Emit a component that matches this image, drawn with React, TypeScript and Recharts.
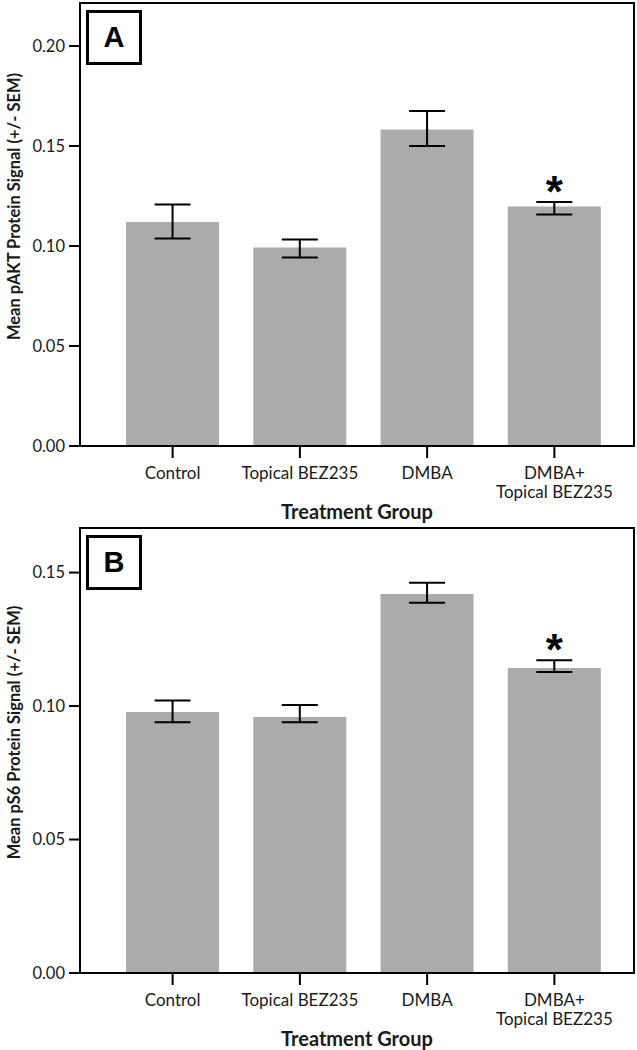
import React from "react";
import { ComposedChart, Bar, Line, XAxis, YAxis, ErrorBar } from "recharts";

const GROUPS = ["Control", "Topical BEZ235", "DMBA", "DMBA+\nTopical BEZ235"];

// panel A: pAKT
const PAKT_MEAN = [0.112, 0.0993, 0.1583, 0.1198];
const PAKT_LOW = [0.1038, 0.0942, 0.15, 0.1158];
const PAKT_HIGH = [0.1207, 0.1033, 0.1675, 0.122];
const PAKT_TICKS = [0, 0.05, 0.1, 0.15, 0.2];

// panel B: pS6
const PS6_MEAN = [0.0978, 0.0959, 0.142, 0.1143];
const PS6_LOW = [0.0939, 0.0939, 0.1387, 0.1128];
const PS6_HIGH = [0.1021, 0.1004, 0.1462, 0.1172];
const PS6_TICKS = [0, 0.05, 0.1, 0.15];

const SIGNIFICANT = [false, false, false, true];

const FONT = "Lato, 'Open Sans', sans-serif";
const INK = "#1a1a1a";

function buildRows(mean: number[], low: number[], high: number[]) {
  return GROUPS.map((group, i) => ({
    group,
    mean: mean[i],
    err: [mean[i] - low[i], high[i] - mean[i]],
    star: SIGNIFICANT[i] ? high[i] : null,
  }));
}

function GroupTick(props: any) {
  const { x, y, payload } = props;
  const lines = String(payload.value).split("\n");
  return (
    <text x={x} y={y} textAnchor="middle" fill={INK} fontSize={17} fontFamily={FONT}>
      {lines.map((l, i) => (
        <tspan key={i} x={x} dy={19}>
          {l}
        </tspan>
      ))}
    </text>
  );
}

function StarDot(props: any) {
  const { cx, cy, index, value } = props;
  if (value == null || cy == null || isNaN(cy)) return <g key={`s${index}`} />;
  return (
    <text
      key={`s${index}`}
      x={cx}
      y={cy + 5}
      textAnchor="middle"
      fontSize={44}
      fontWeight="bold"
      fontFamily="'Liberation Sans', Arial, sans-serif"
      fill="#000"
    >
      *
    </text>
  );
}

function YTitle({ viewBox, text }: any) {
  const cx = viewBox.x + 14;
  const cy = viewBox.y + viewBox.height / 2 - 18;
  return (
    <text
      x={cx}
      y={cy}
      transform={`rotate(-90, ${cx}, ${cy})`}
      textAnchor="middle"
      dominantBaseline="central"
      fontSize={16.5}
      fontWeight="bold"
      fontFamily={FONT}
      fill={INK}
    >
      {text}
    </text>
  );
}

function XTitle({ viewBox }: any) {
  return (
    <text
      x={viewBox.x + viewBox.width / 2}
      y={viewBox.y + 65}
      textAnchor="middle"
      dominantBaseline="central"
      fontSize={20}
      fontWeight="bold"
      fontFamily={FONT}
      fill={INK}
    >
      Treatment Group
    </text>
  );
}

interface PanelProps {
  top: number;
  height: number;
  xAxisHeight: number;
  letter: string;
  yTitle: string;
  rows: ReturnType<typeof buildRows>;
  yMax: number;
  ticks: number[];
}

function Panel({ top, height, xAxisHeight, letter, yTitle, rows, yMax, ticks }: PanelProps) {
  const plotTop = 3;
  const plotBottom = height - xAxisHeight;
  return (
    <div style={{ position: "absolute", left: 0, top, width: 637, height }}>
      <ComposedChart
        width={637}
        height={height}
        data={rows}
        margin={{ top: plotTop, right: 3, left: 0, bottom: 0 }}
        barCategoryGap="13.4%"
      >
        <XAxis
          dataKey="group"
          height={xAxisHeight}
          padding={{ left: 29, right: 16 }}
          axisLine={false}
          tickLine={{ stroke: "#000", strokeWidth: 2 }}
          tickSize={12}
          tickMargin={2}
          tick={<GroupTick />}
          interval={0}
          label={<XTitle />}
        />
        <YAxis
          width={80}
          domain={[0, yMax]}
          ticks={ticks}
          allowDataOverflow
          axisLine={false}
          tickLine={{ stroke: "#000", strokeWidth: 2 }}
          tickSize={11}
          tickMargin={4}
          tick={{ fontSize: 16.5, fill: INK, fontFamily: FONT }}
          tickFormatter={(v: number) => v.toFixed(2)}
          label={<YTitle text={yTitle} />}
        />
        <Bar dataKey="mean" fill="#ababab" isAnimationActive={false}>
          <ErrorBar dataKey="err" width={18} stroke="#000" strokeWidth={2} direction="y" />
        </Bar>
        <Line
          dataKey="star"
          stroke="none"
          dot={<StarDot />}
          activeDot={false}
          isAnimationActive={false}
          legendType="none"
        />
      </ComposedChart>
      <div
        style={{
          position: "absolute",
          left: 79,
          top: plotTop - 1,
          width: 556,
          height: plotBottom - plotTop + 2,
          border: "2px solid #000",
          boxSizing: "border-box",
          pointerEvents: "none",
        }}
      />
      <div
        style={{
          position: "absolute",
          left: 86,
          top: plotTop + 7,
          width: 56,
          height: 55,
          border: "3px solid #000",
          boxSizing: "border-box",
          background: "#fff",
          display: "flex",
          alignItems: "center",
          justifyContent: "center",
          fontFamily: "'Liberation Sans', Arial, sans-serif",
          fontWeight: "bold",
          fontSize: 29,
          color: "#000",
        }}
      >
        {letter}
      </div>
    </div>
  );
}

export default function App() {
  const paktRows = buildRows(PAKT_MEAN, PAKT_LOW, PAKT_HIGH);
  const ps6Rows = buildRows(PS6_MEAN, PS6_LOW, PS6_HIGH);
  return (
    <div
      style={{
        position: "absolute",
        left: 0,
        top: 0,
        width: 637,
        height: 1050,
        overflow: "hidden",
        background: "#fff",
        fontFamily: FONT,
      }}
    >
      <Panel
        top={0}
        height={525}
        xAxisHeight={79}
        letter="A"
        yTitle="Mean pAKT Protein Signal (+/- SEM)"
        rows={paktRows}
        yMax={0.2215}
        ticks={PAKT_TICKS}
      />
      <Panel
        top={525}
        height={525}
        xAxisHeight={77}
        letter="B"
        yTitle="Mean pS6 Protein Signal (+/- SEM)"
        rows={ps6Rows}
        yMax={0.1667}
        ticks={PS6_TICKS}
      />
    </div>
  );
}
